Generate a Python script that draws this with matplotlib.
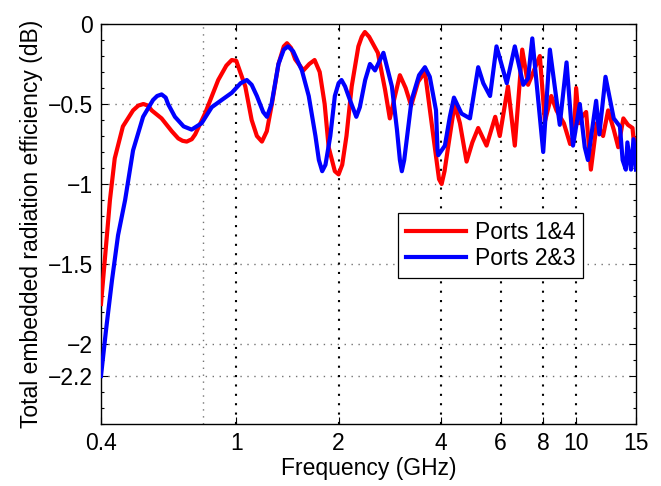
import matplotlib
matplotlib.use("Agg")
import matplotlib.pyplot as plt
from matplotlib.ticker import FixedLocator, NullLocator, MultipleLocator

# Ports 1&4 (red)
freq_14 = [0.400, 0.411, 0.425, 0.439, 0.464, 0.497, 0.515, 0.533, 0.550, 0.564,
           0.603, 0.646, 0.675, 0.695, 0.715, 0.740, 0.757, 0.809, 0.885, 0.935,
           0.970, 1.00, 1.063, 1.11, 1.15, 1.19, 1.23, 1.273, 1.331, 1.38,
           1.41, 1.45, 1.49, 1.576, 1.64, 1.70, 1.76, 1.82, 1.87, 1.95,
           2.00, 2.05, 2.11, 2.186, 2.287, 2.34, 2.39, 2.46, 2.61, 2.74,
           2.83, 2.93, 3.03, 3.15, 3.27, 3.43, 3.59, 3.80, 3.95, 4.02,
           4.10, 4.20, 4.39, 4.55, 4.76, 4.95, 5.15, 5.45, 5.78, 5.96,
           6.30, 6.60, 6.94, 7.22, 7.82, 8.09, 8.45, 8.75, 9.2, 9.6,
           9.85, 10.0, 10.2, 10.4, 10.7, 11.05, 11.5, 12.0, 12.42, 12.9,
           13.3, 13.77, 14.2, 14.65, 14.8, 15.0]
eff_14 = [-1.75, -1.46, -1.10, -0.84, -0.64, -0.54, -0.51, -0.50, -0.51, -0.54,
          -0.59, -0.67, -0.715, -0.73, -0.735, -0.72, -0.69, -0.56, -0.35, -0.26,
          -0.225, -0.23, -0.39, -0.60, -0.70, -0.735, -0.67, -0.50, -0.25, -0.14,
          -0.12, -0.15, -0.22, -0.29, -0.25, -0.225, -0.30, -0.50, -0.77, -0.92,
          -0.94, -0.88, -0.70, -0.39, -0.14, -0.08, -0.05, -0.08, -0.18, -0.41,
          -0.59, -0.45, -0.32, -0.40, -0.51, -0.36, -0.30, -0.70, -0.97, -1.00,
          -0.92, -0.77, -0.50, -0.62, -0.86, -0.74, -0.65, -0.76, -0.58, -0.70,
          -0.39, -0.76, -0.16, -0.38, -0.20, -0.61, -0.45, -0.54, -0.62, -0.75,
          -0.70, -0.40, -0.62, -0.58, -0.55, -0.91, -0.62, -0.70, -0.54, -0.66,
          -0.77, -0.59, -0.63, -0.65, -0.75, -0.72]

# Ports 2&3 (blue)
freq_23 = [0.400, 0.414, 0.431, 0.449, 0.471, 0.497, 0.532, 0.569, 0.585, 0.603,
           0.620, 0.630, 0.660, 0.700, 0.739, 0.791, 0.847, 0.906, 0.970, 1.03,
           1.074, 1.11, 1.15, 1.20, 1.231, 1.27, 1.331, 1.38, 1.42, 1.47,
           1.56, 1.634, 1.71, 1.75, 1.79, 1.83, 1.891, 1.95, 2.00, 2.04,
           2.09, 2.16, 2.255, 2.31, 2.395, 2.474, 2.56, 2.71, 2.87, 2.97,
           3.03, 3.07, 3.12, 3.28, 3.45, 3.59, 3.71, 3.87, 3.91, 3.93,
           4.11, 4.25, 4.37, 4.60, 4.87, 5.15, 5.33, 5.58, 5.83, 6.25,
           6.60, 6.99, 7.22, 7.43, 8.00, 8.37, 8.95, 9.37, 9.79, 10.25,
           10.6, 10.83, 11.45, 11.7, 12.2, 12.9, 13.45, 13.7, 14.0, 14.15,
           14.5, 14.75, 15.0]
eff_23 = [-2.20, -1.91, -1.60, -1.32, -1.10, -0.79, -0.58, -0.475, -0.45, -0.44,
          -0.46, -0.50, -0.58, -0.64, -0.66, -0.62, -0.52, -0.475, -0.43, -0.37,
          -0.35, -0.38, -0.45, -0.55, -0.58, -0.50, -0.25, -0.16, -0.14, -0.17,
          -0.29, -0.45, -0.70, -0.85, -0.92, -0.88, -0.70, -0.45, -0.37, -0.35,
          -0.39, -0.475, -0.58, -0.52, -0.35, -0.25, -0.29, -0.18, -0.39, -0.66,
          -0.85, -0.92, -0.85, -0.475, -0.32, -0.27, -0.33, -0.54, -0.79, -0.82,
          -0.76, -0.58, -0.46, -0.56, -0.59, -0.27, -0.37, -0.45, -0.14, -0.37,
          -0.14, -0.38, -0.34, -0.09, -0.80, -0.16, -0.63, -0.24, -0.76, -0.50,
          -0.77, -0.85, -0.48, -0.69, -0.33, -0.59, -0.64, -0.85, -0.91, -0.74,
          -0.91, -0.72, -0.91]

x_ticks = [0.4, 1, 2, 4, 6, 8, 10, 15]
x_tick_labels = ["0.4", "1", "2", "4", "6", "8", "10", "15"]
y_ticks = [-2.2, -2, -1.5, -1, -0.5, 0]
y_tick_labels = ["\u22122.2", "\u22122", "\u22121.5", "\u22121", "\u22120.5", "0"]
v_grid_dark = [1, 2, 4, 6, 8, 10]
v_grid_light = [0.8]

plt.rcParams['font.family'] = ['Liberation Sans', 'DejaVu Sans']
plt.rcParams['font.size'] = 16.5

fig = plt.figure(figsize=(6.61, 4.86), dpi=100)
ax = fig.add_axes([101 / 661, 1 - 424 / 486, 535 / 661, 400 / 486])

# grid lines (drawn below curves)
for yv in y_ticks[:-1]:
    ax.axhline(yv, color="0.45", ls=(0, (1, 4)), lw=1.0, zorder=1)
for xv in v_grid_light:
    ax.axvline(xv, color="0.45", ls=(0, (1, 4)), lw=1.0, zorder=1)
for xv in v_grid_dark:
    ax.axvline(xv, color="black", ls=(0, (1, 3.5)), lw=1.5, zorder=1)

ax.plot(freq_14, eff_14, color="#ff0000", lw=3, label="Ports 1&4",
        solid_joinstyle="round", zorder=3)
ax.plot(freq_23, eff_23, color="#0000ff", lw=3, label="Ports 2&3",
        solid_joinstyle="round", zorder=4)

ax.set_xscale("log")
ax.set_xlim(0.4, 15)
ax.set_ylim(-2.5, 0)
ax.xaxis.set_major_locator(FixedLocator(x_ticks))
ax.set_xticklabels(x_tick_labels)
ax.xaxis.set_minor_locator(NullLocator())
ax.set_yticks(y_ticks)
ax.set_yticklabels(y_tick_labels)
ax.yaxis.set_minor_locator(MultipleLocator(0.1))

ax.tick_params(which="both", direction="in", top=True, right=True, width=0.8)
ax.tick_params(which="major", length=5, pad=6)
ax.tick_params(which="minor", length=2.5)
for s in ax.spines.values():
    s.set_linewidth(1.0)

ax.set_xlabel("Frequency (GHz)", labelpad=1)
ax.set_ylabel("Total embedded radiation efficiency (dB)", labelpad=3)

leg = ax.legend(loc="upper left", bbox_to_anchor=(0.555, 0.5275),
                borderaxespad=0, fancybox=False, framealpha=1,
                edgecolor="black", handlelength=2.6, handletextpad=0.4,
                borderpad=0.35, labelspacing=0.15)
leg.get_frame().set_linewidth(0.9)

fig.savefig("out.png", dpi=100)
